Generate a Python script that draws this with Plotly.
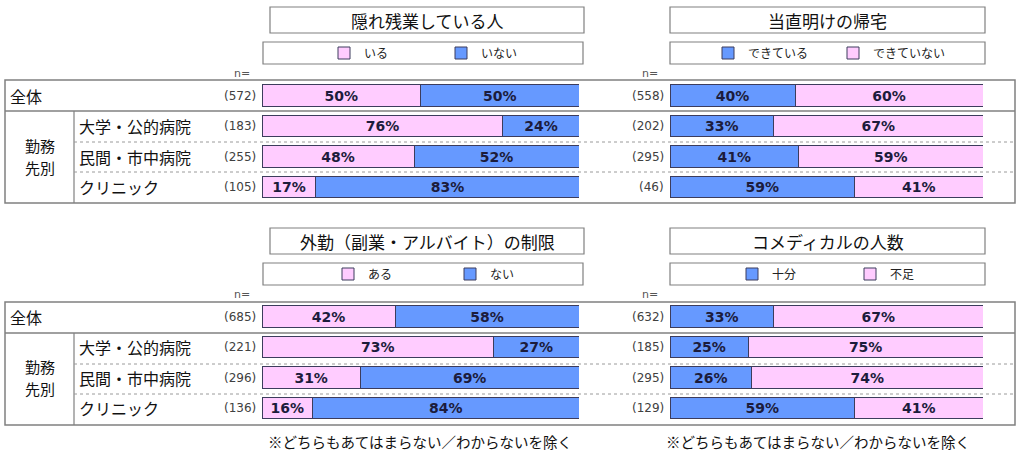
import plotly.graph_objects as go

# ---- データ ----
rows = ['全体', '大学・公的病院', '民間・市中病院', 'クリニック']
group_label = ['勤務', '先別']

title_tl = '隠れ残業している人'
n_tl = [572, 183, 255, 105]
iru = [50, 76, 48, 17]
inai = [50, 24, 52, 83]

title_tr = '当直明けの帰宅'
n_tr = [558, 202, 295, 46]
dekiteiru = [40, 33, 41, 59]
dekiteinai = [60, 67, 59, 41]

title_bl = '外勤（副業・アルバイト）の制限'
n_bl = [685, 221, 296, 136]
aru = [42, 73, 31, 16]
nai = [58, 27, 69, 84]

title_br = 'コメディカルの人数'
n_br = [632, 185, 295, 129]
juubun = [33, 25, 26, 59]
fusoku = [67, 75, 74, 41]

note = '※どちらもあてはまらない／わからないを除く'

# ---- スタイル ----
W, H = 1024, 454
PINK = '#FFCCFF'
BLUE = '#6699FF'
EDGE = '#3c3c5c'
GRID = '#808080'
JP = 'Noto Sans CJK JP'
NUM = 'DejaVu Sans, Noto Sans CJK JP'


def fx(x):
    return x / W


def fy(y):
    return 1 - y / H


panels = [
    dict(k=1, title=title_tl, n=n_tl, left=True, x0=262, x1=579, tb=(270, 584), lb=(263, 583),
         dy=0, series=[('いる', iru, PINK, 338), ('いない', inai, BLUE, 455)]),
    dict(k=2, title=title_tr, n=n_tr, left=False, x0=670, x1=983, tb=(670, 985), lb=(670, 985),
         dy=0, series=[('できている', dekiteiru, BLUE, 722), ('できていない', dekiteinai, PINK, 847)]),
    dict(k=3, title=title_bl, n=n_bl, left=True, x0=262, x1=579, tb=(270, 584), lb=(263, 583),
         dy=221, series=[('ある', aru, PINK, 342), ('ない', nai, BLUE, 464)]),
    dict(k=4, title=title_br, n=n_br, left=False, x0=670, x1=983, tb=(670, 985), lb=(670, 985),
         dy=221, series=[('十分', juubun, BLUE, 746), ('不足', fusoku, PINK, 864)]),
]

fig = go.Figure()
shapes = []
annotations = []
layout_extra = {}

leg_i = 0
for p in panels:
    k = p['k']
    xa = 'x' if k == 1 else f'x{k}'
    ya = 'y' if k == 1 else f'y{k}'
    dy = p['dy']

    for name, vals, color, sym_x in p['series']:
        leg_i += 1
        leg = 'legend' if leg_i == 1 else f'legend{leg_i}'
        fig.add_trace(go.Bar(
            y=rows, x=vals, orientation='h', name=name,
            xaxis=xa, yaxis=ya, legend=leg, showlegend=True,
            marker=dict(color=color, line=dict(color=EDGE, width=1)),
            texttemplate='%{x}%', textposition='inside', insidetextanchor='middle',
            textangle=0, constraintext='none',
            textfont=dict(family=NUM, size=14, color='#1c1c3c', weight='bold'),
            hoverinfo='skip',
        ))
        # 凡例は項目ごとに配置
        layout_extra[leg] = dict(
            x=fx(sym_x - 14), xanchor='left', y=fy(53 + dy), yanchor='middle',
            orientation='h', bgcolor='rgba(0,0,0,0)', borderwidth=0,
            font=dict(family=JP, size=12, color='#222'), itemclick=False,
        )

    # 軸
    ytop = 80.25 + dy
    ybot = 202.25 + dy
    layout_extra[xa.replace('x', 'xaxis')] = dict(
        domain=[fx(p['x0']), fx(p['x1'])], range=[0, 100], visible=False,
        anchor=ya, fixedrange=True)
    layout_extra[ya.replace('y', 'yaxis')] = dict(
        domain=[fy(ybot), fy(ytop)], range=[3.5, -0.5], visible=False,
        anchor=xa, type='category', categoryarray=rows, fixedrange=True)

    # タイトルと凡例の枠
    shapes.append(dict(type='rect', xref='paper', yref='paper',
                       x0=fx(p['tb'][0]), x1=fx(p['tb'][1]), y0=fy(7 + dy), y1=fy(33 + dy),
                       line=dict(color=GRID, width=1.2), fillcolor='white', layer='below'))
    shapes.append(dict(type='rect', xref='paper', yref='paper',
                       x0=fx(p['lb'][0]), x1=fx(p['lb'][1]), y0=fy(42 + dy), y1=fy(64 + dy),
                       line=dict(color=GRID, width=1.2), fillcolor='white', layer='below'))
    annotations.append(dict(text=p['title'], xref='paper', yref='paper',
                            x=fx((p['tb'][0] + p['tb'][1]) / 2), y=fy(20 + dy),
                            xanchor='center', yanchor='middle',
                            showarrow=False, font=dict(family=JP, size=17, color='#111')))

    # n=
    nx = p['x0'] - 4
    annotations.append(dict(text='n=', xref='paper', yref='paper', x=fx(nx - 16), y=fy(73 + dy),
                            xanchor='center', yanchor='middle',
                            showarrow=False, font=dict(family=NUM, size=11, color='#555')))
    for i, n in enumerate(p['n']):
        annotations.append(dict(text=f'({n})', xref='paper', yref=ya, x=fx(nx), y=i,
                                xanchor='right', yanchor='middle', showarrow=False,
                                font=dict(family=NUM, size=12, color='#404040')))

    if p['left']:
        for i, r in enumerate(rows):
            annotations.append(dict(text=r, xref='paper', yref=ya, x=fx(8 if i == 0 else 77), y=i,
                                    xanchor='left', yanchor='middle', showarrow=False,
                                    font=dict(family=JP, size=16, color='#111')))
        for j, g in enumerate(group_label):
            annotations.append(dict(text=g, xref='paper', yref='paper', x=fx(39.5),
                                    y=fy(145.5 + 22 * j + dy),
                                    xanchor='center', yanchor='middle',
                                    showarrow=False, font=dict(family=JP, size=15, color='#111')))

# 表の罫線
for dy in [0, 222]:
    shapes.append(dict(type='rect', xref='paper', yref='paper', x0=fx(5), x1=fx(1015),
                       y0=fy(80 + dy), y1=fy(203 + dy), line=dict(color=GRID, width=1.5)))
    shapes.append(dict(type='line', xref='paper', yref='paper', x0=fx(5), x1=fx(1015),
                       y0=fy(111 + dy), y1=fy(111 + dy), line=dict(color=GRID, width=1.5)))
    shapes.append(dict(type='line', xref='paper', yref='paper', x0=fx(74), x1=fx(74),
                       y0=fy(111 + dy), y1=fy(203 + dy), line=dict(color=GRID, width=1.2)))
    for yy in [142, 172]:
        shapes.append(dict(type='line', xref='paper', yref='paper', x0=fx(74), x1=fx(1015),
                           y0=fy(yy + dy), y1=fy(yy + dy),
                           line=dict(color='#9a9a9a', width=1, dash='dot')))

# 注記
for cx in [420, 818]:
    annotations.append(dict(text=note, xref='paper', yref='paper', x=fx(cx), y=fy(441),
                            xanchor='center', yanchor='middle',
                            showarrow=False, font=dict(family=JP, size=14.5, color='#111')))

fig.update_layout(
    width=W, height=H,
    margin=dict(l=0, r=0, t=0, b=0),
    barmode='stack', bargap=0.31,
    plot_bgcolor='white', paper_bgcolor='white',
    shapes=shapes, annotations=annotations,
    **layout_extra,
)

fig.write_html("out.html", config={'displayModeBar': False},
               post_script="document.body.style.margin='0';")
